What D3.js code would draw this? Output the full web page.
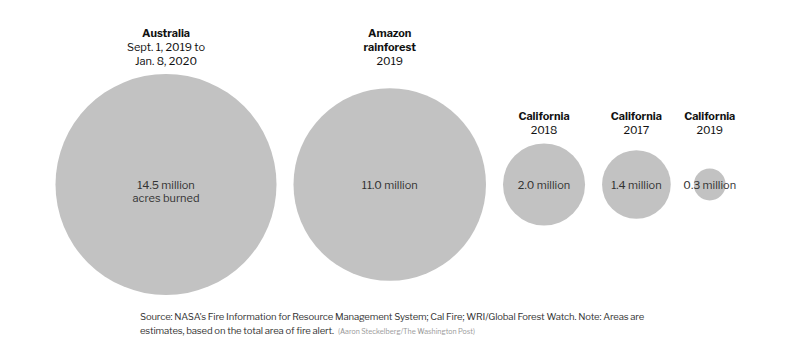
<!DOCTYPE html>
<html>
<head>
<meta charset="utf-8">
<script src="https://cdn.jsdelivr.net/npm/d3@7"></script>
<style>
  body { margin: 0; background: #fff; }
  svg { display: block; font-family: "Libre Franklin", "Roboto", "Liberation Sans", Arial, sans-serif; }
</style>
</head>
<body>
<div id="chart"></div>
<script>
// Fire areas, million acres
const places = ["Australia", "Amazon rainforest", "California", "California", "California"];
const titleLines = [["Australia"], ["Amazon", "rainforest"], ["California"], ["California"], ["California"]];
const periodLines = [["Sept. 1, 2019 to", "Jan. 8, 2020"], ["2019"], ["2018"], ["2017"], ["2019"]];
const acres = [14.5, 11.0, 2.0, 1.4, 0.3];
const valueLabels = ["14.5 million", "11.0 million", "2.0 million", "1.4 million", "0.3 million"];
const unitNote = "acres burned";

const sourceLines = [
  "Source: NASA's Fire Information for Resource Management System; Cal Fire; WRI/Global Forest Watch. Note: Areas are",
  "estimates, based on the total area of fire alert."
];
const credit = "(Aaron Steckelberg/The Washington Post)";

const width = 800, height = 344;
const cy = 184.5;
const startX = 55.5;   // left edge of first circle
const gap = 17;        // space between circles
const minHalf = 22;    // room for the label over tiny circles

const svg = d3.select('#chart')
  .append('svg')
  .attr('width', width)
  .attr('height', height);

// area-true radius scale
const r = d3.scaleSqrt()
  .domain([0, d3.max(acres)])
  .range([0, 110.5]);

// place circles one after another
const data = acres.map((v, i) => ({
  place: places[i], title: titleLines[i], period: periodLines[i],
  value: v, label: valueLabels[i], r: r(v)
}));
let cursor = startX;
data.forEach(d => {
  const half = Math.max(d.r, minHalf);
  d.x = cursor + half;
  cursor = d.x + half + gap;
  d.tier = d.r > 60 ? 0 : 1;
});
// labels in the same tier share a bottom line
const tierTop = d3.rollup(data, v => cy - d3.max(v, d => d.r), d => d.tier);

const g = svg.selectAll('.fire')
  .data(data)
  .enter().append('g')
  .attr('class', 'fire')
  .attr('transform', d => `translate(${d.x},0)`);

g.append('circle')
  .attr('cx', 0)
  .attr('cy', cy)
  .attr('r', d => d.r)
  .attr('fill', '#c2c2c2');

// value inside the circle
g.append('text')
  .attr('text-anchor', 'middle')
  .attr('y', cy + 4)
  .attr('font-size', 11)
  .attr('fill', '#333')
  .text(d => d.label);

g.filter((d, i) => i === 0).append('text')
  .attr('text-anchor', 'middle')
  .attr('y', cy + 17)
  .attr('font-size', 11)
  .attr('fill', '#333')
  .text(unitNote);

// title + period over the circle
const lineH = 14;
g.each(function(d) {
  const lines = d.title.map(t => ({ t, bold: true })).concat(d.period.map(t => ({ t, bold: false })));
  const bottom = tierTop.get(d.tier) - 9;
  d3.select(this).selectAll('.head')
    .data(lines)
    .enter().append('text')
    .attr('class', 'head')
    .attr('text-anchor', 'middle')
    .attr('y', (l, j) => bottom - (lines.length - 1 - j) * lineH)
    .attr('font-size', 11)
    .attr('font-weight', l => l.bold ? 700 : 400)
    .attr('fill', '#111')
    .text(l => l.t);
});

// source note
const src = svg.append('text')
  .attr('x', 140)
  .attr('font-size', 9.5)
  .attr('letter-spacing', -0.15)
  .attr('fill', '#333');
src.selectAll('tspan')
  .data(sourceLines)
  .enter().append('tspan')
  .attr('x', 140)
  .attr('y', (d, i) => 320 + i * 14)
  .text(d => d);
src.append('tspan')
  .attr('dx', 4)
  .attr('font-size', 7)
  .attr('letter-spacing', 0)
  .attr('fill', '#999')
  .text(credit);
</script>
</body>
</html>
